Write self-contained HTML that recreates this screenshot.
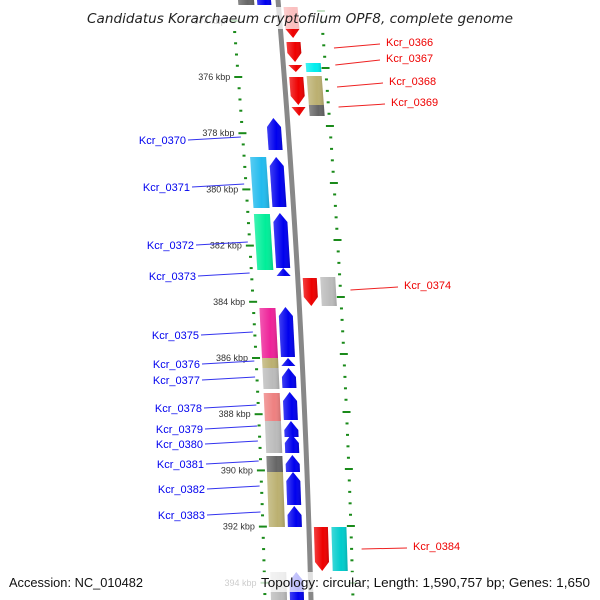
<!DOCTYPE html>
<html><head><meta charset="utf-8"><style>
html,body{margin:0;padding:0;background:#fff;}
svg{display:block;font-family:"Liberation Sans",sans-serif;}
</style></head><body>
<svg id="map" width="600" height="600" viewBox="0 0 600 600">
<defs>
<linearGradient id="shade" x1="0" x2="1" y1="0" y2="0"><stop offset="0" stop-color="#fff" stop-opacity="0.25"/><stop offset="0.6" stop-color="#fff" stop-opacity="0"/><stop offset="1" stop-color="#000" stop-opacity="0.15"/></linearGradient>
</defs>
<g id="ticks"></g>
<g id="backbone"></g>
<g id="genes"></g>
<g id="labels"></g>
<rect x="84" y="7" width="432" height="22" fill="#fff" opacity="0.75"/>
<text x="87" y="23" font-size="13.5" font-style="italic" fill="#222" textLength="426" lengthAdjust="spacingAndGlyphs" style="font-family:'DejaVu Sans',sans-serif">Candidatus Korarchaeum cryptofilum OPF8, complete genome</text>
<rect x="5" y="572" width="590" height="20" fill="#fff" opacity="0.75"/>
<text x="9" y="587" font-size="13" fill="#111" textLength="134" lengthAdjust="spacingAndGlyphs">Accession: NC_010482</text>
<text x="261" y="587" font-size="13" fill="#111" textLength="329" lengthAdjust="spacingAndGlyphs">Topology: circular; Length: 1,590,757 bp; Genes: 1,650</text>
</svg>
<script>
const NS="http://www.w3.org/2000/svg";
const leftKbp=[374,376,378,380,382,384,386,388,390,392,394];
const rightMajorY=[11,68,126,183,240,297,354,412,469,526,583];
const geneNames=["g_top_b","Kcr_0370","Kcr_0371","Kcr_0372","Kcr_0373","Kcr_0375","Kcr_0376","Kcr_0377","Kcr_0378","Kcr_0379","Kcr_0380","Kcr_0381","Kcr_0382","Kcr_0383","g_bot_b"];
const geneStart=[-10,118,157,213,268,307,358,368,392,421,434,455,472,506,572];
const geneEnd=[5,150,207,268,276,357,366,388,420,437,453,472,505,527,610];
const cogStart=[-10,157,214,308,358,368,393,421,456,472,572];
const cogEnd=[5,208,270,358,368,389,421,453,472,527,610];
const cogColor=["#666666","#22bbee","#00ee99","#ee2299","#bbb070","#bbbbbb","#ee8080","#bbbbbb","#666666","#bbb070","#bbbbbb"];
const revNames=["g_top_r","Kcr_0366","Kcr_0367","Kcr_0368","Kcr_0369","Kcr_0374","Kcr_0384"];
const revStart=[7,42,65,77,107,278,527];
const revEnd=[38,62,72,105,116,306,571];
const rcogStart=[63,76,105,277,527];
const rcogEnd=[72,105,116,306,571];
const rcogColor=["#00eeee","#bbb070","#666666","#bbbbbb","#00cccc"];
const blueLabels=["Kcr_0370","Kcr_0371","Kcr_0372","Kcr_0373","Kcr_0375","Kcr_0376","Kcr_0377","Kcr_0378","Kcr_0379","Kcr_0380","Kcr_0381","Kcr_0382","Kcr_0383"];
const blueLabelY=[140,187,245,276,335,364,380,408,429,444,464,489,515];
const blueLabelX=[186,190,194,196,199,200,200,202,203,203,204,205,205];
const redLabels=["Kcr_0366","Kcr_0367","Kcr_0368","Kcr_0369","Kcr_0374","Kcr_0384"];
const redLabelY=[42,58,81,102,285,546];
const redLabelX=[386,386,389,391,404,413];
const redTargetY=[48,65,87,107,290,549];

function f(y){return 278+0.085*y-0.00005*y*y;}
function kToY(k){return 77+(k-376)*28.1;}
function el(tag,a,parent){const e=document.createElementNS(NS,tag);for(const k in a)e.setAttribute(k,a[k]);parent.appendChild(e);return e;}
const T=document.getElementById('ticks'),B=document.getElementById('backbone'),G=document.getElementById('genes'),L=document.getElementById('labels');

let d="";for(let y=-5;y<=605;y+=5){d+=(y===-5?"M":"L")+(f(y)-2.5)+","+y;}
for(let y=605;y>=-5;y-=5){d+="L"+(f(y)+2.5)+","+y;}
const bb=el('path',{d:d+"Z",fill:"#888"},B);



for(let i=0;i<leftKbp.length;i++){
  const k=leftKbp[i];
  for(let j=0;j<5;j++){
    const y=kToY(k+j*0.4);const x=f(y)-46;
    const t=el('rect',{x:j===0?x-4:x-1.5,y:y-1,width:j===0?8:3,height:2,fill:"#1a8a1a"},T);
    
    
  }
  const y=kToY(k);
  const lb=el('text',{x:f(y)-54,y:y+3,"text-anchor":"end","font-size":"9",fill:"#333"},T);
  lb.textContent=k+" kbp";
  
  
}
for(let i=0;i<rightMajorY.length;i++){
  for(let j=0;j<5;j++){
    const y=rightMajorY[i]+j*11.44;const x=f(y)+42;
    const t=el('rect',{x:j===0?x-4:x-1.5,y:y-1,width:j===0?8:3,height:2,fill:"#1a8a1a"},T);
    
    
  }
}

function box(c,w,y1,y2){
  const p=[[f(y1)+c-w/2,y1],[f(y1)+c+w/2,y1],[f(y2)+c+w/2,y2],[f(y2)+c-w/2,y2]];
  return p.map(q=>q.join(",")).join(" ");
}
function arrow(c,w,y1,y2,up){
  const h=Math.min(9,y2-y1);
  if(up){const t=y1,b=y1+h;
    return [[f(t)+c,t],[f(b)+c+w/2,b],[f(y2)+c+w/2,y2],[f(y2)+c-w/2,y2],[f(b)+c-w/2,b]].map(q=>q.join(",")).join(" ");}
  const t=y2,b=y2-h;
  return [[f(y1)+c-w/2,y1],[f(y1)+c+w/2,y1],[f(b)+c+w/2,b],[f(t)+c,t],[f(b)+c-w/2,b]].map(q=>q.join(",")).join(" ");
}
for(let i=0;i<cogStart.length;i++){
  const pt=box(-32,16,cogStart[i],cogEnd[i]);
  const p=el('polygon',{points:pt,fill:cogColor[i]},G);
  
  
  el('polygon',{points:pt,fill:"url(#shade)"},G);
}
for(let i=0;i<geneNames.length;i++){
  const pt=arrow(-14,14,geneStart[i],geneEnd[i],true);
  const p=el('polygon',{points:pt,fill:"#0000ee"},G);
  
  
  el('polygon',{points:pt,fill:"url(#shade)"},G);
}
for(let i=0;i<revNames.length;i++){
  const pt=arrow(12,14,revStart[i],revEnd[i],false);
  const p=el('polygon',{points:pt,fill:"#ee0000"},G);
  
  
  el('polygon',{points:pt,fill:"url(#shade)"},G);
}
for(let i=0;i<rcogStart.length;i++){
  const pt=box(30,15,rcogStart[i],rcogEnd[i]);
  const p=el('polygon',{points:pt,fill:rcogColor[i]},G);
  
  
  el('polygon',{points:pt,fill:"url(#shade)"},G);
}
for(let i=0;i<blueLabels.length;i++){
  const y=blueLabelY[i];
  const ln=el('line',{x1:blueLabelX[i]+2,y1:y,x2:f(y)-48,y2:y-3,stroke:"#3333ee","stroke-width":"1"},L);
  
  
  const t=el('text',{x:blueLabelX[i],y:y+4,"text-anchor":"end","font-size":"11",fill:"#0000ee"},L);
  t.textContent=blueLabels[i];
  
  
}
for(let i=0;i<redLabels.length;i++){
  const y=redTargetY[i];
  const ln=el('line',{x1:f(y)+52,y1:y,x2:redLabelX[i]-6,y2:redLabelY[i]+2,stroke:"#ee2222","stroke-width":"1"},L);
  
  
  const t=el('text',{x:redLabelX[i],y:redLabelY[i]+4,"font-size":"11",fill:"#ee0000"},L);
  t.textContent=redLabels[i];
  
  
}
</script>
</body></html>
